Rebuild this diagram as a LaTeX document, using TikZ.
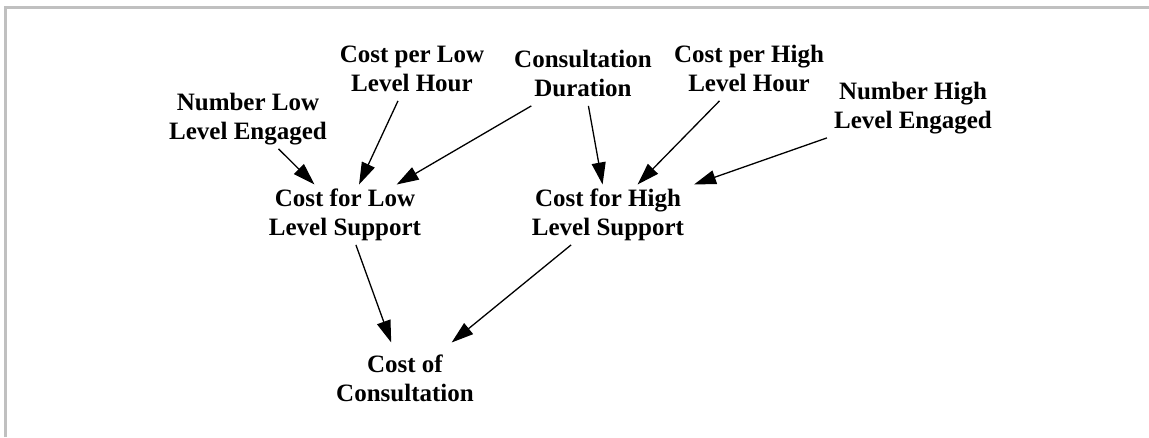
\documentclass[tikz,border=0pt]{standalone}
\usepackage{fontspec}
\setmainfont{Liberation Serif}
\usetikzlibrary{arrows.meta}
\definecolor{framegray}{RGB}{192,192,192}
\begin{document}
\begin{tikzpicture}[x=1pt,y=-1pt,
  var/.style={rectangle, align=center, inner xsep=14pt, inner ysep=1pt,
    font=\fontsize{25}{29}\selectfont\bfseries},
  link/.style={line width=1.3pt, -{Triangle[length=22pt,width=14pt]}}]
\useasboundingbox (0,0) rectangle (1149,437);
% frame on the top and left edges
\draw[line width=2.7pt, framegray] (5.3,437) -- (5.3,7.3) -- (1149,7.3);

% variables
\node[var] (nlle)  at (248,118.7) {\strut Number Low\\\strut Level Engaged};
\node[var] (cpllh) at (412,70.7)  {\strut Cost per Low\\\strut Level Hour};
\node[var] (cd)    at (583,75.7)  {\strut Consultation\\\strut Duration};
\node[var] (cphlh) at (749,70.7)  {\strut Cost per High\\\strut Level Hour};
\node[var] (nhle)  at (913,107.7) {\strut Number High\\\strut Level Engaged};
\node[var] (clls)  at (345,214.7) {\strut Cost for Low\\\strut Level Support};
\node[var] (chls)  at (608,214.7) {\strut Cost for High\\\strut Level Support};
\node[var, inner ysep=9pt] (coc) at (405,380.7) {\strut Cost of\\\strut Consultation};

% influences
\draw[link] (nlle)  -- (clls);
\draw[link] (cpllh) -- (clls);
\draw[link] (cd)    -- (clls);
\draw[link] (cd)    -- (chls);
\draw[link] (cphlh) -- (chls);
\draw[link] (nhle)  -- (chls);
\draw[link] (clls)  -- (coc);
\draw[link] (chls)  -- (coc);
\end{tikzpicture}
\end{document}
